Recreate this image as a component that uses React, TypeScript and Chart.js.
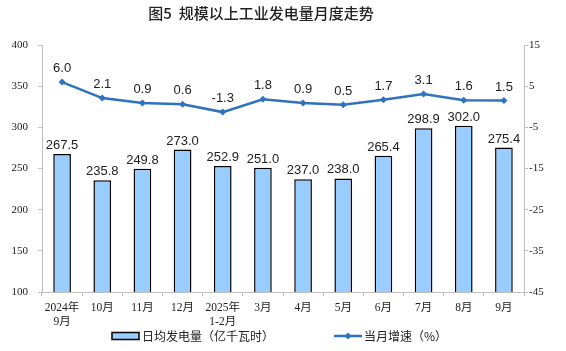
import React, { useEffect, useRef } from "react";
import { Chart, registerables } from "chart.js";

Chart.register(...registerables);

const categories: string[][] = [
  ["2024年", "9月"], ["10月"], ["11月"], ["12月"], ["2025年", "1-2月"],
  ["3月"], ["4月"], ["5月"], ["6月"], ["7月"], ["8月"], ["9月"],
];
const dailyOutput = [267.5, 235.8, 249.8, 273.0, 252.9, 251.0, 237.0, 238.0, 265.4, 298.9, 302.0, 275.4];
const monthlyGrowth = [6.0, 2.1, 0.9, 0.6, -1.3, 1.8, 0.9, 0.5, 1.7, 3.1, 1.6, 1.5];
const leftTicks = [100, 150, 200, 250, 300, 350, 400];
const rightTicks = [-45, -35, -25, -15, -5, 5, 15];

const TITLE = "图5  规模以上工业发电量月度走势";
const BAR_LABEL = "日均发电量（亿千瓦时）";
const LINE_LABEL = "当月增速（%）";

const BAR_FILL = "#99CCFF";
const LINE_COLOR = "#2F72C0";
const AXIS_COLOR = "#BFBFBF";
const TEXT_COLOR = "#222222";
const SERIF = "'Liberation Serif', 'Noto Sans CJK SC', serif";
const SANS = "'Liberation Sans', Arial, sans-serif";
const CJK = "'Noto Sans CJK SC', sans-serif";

const overlayPlugin = {
  id: "overlay",
  afterDatasetsDraw(chart: any) {
    const ctx = chart.ctx;
    ctx.save();
    ctx.fillStyle = "#222222";
    ctx.font = `13px ${SANS}`;
    ctx.textAlign = "center";
    ctx.textBaseline = "bottom";
    const barMeta = chart.getDatasetMeta(0);
    barMeta.data.forEach((el: any, i: number) => {
      ctx.fillText(dailyOutput[i].toFixed(1), el.x, el.y - 2);
    });
    const lineMeta = chart.getDatasetMeta(1);
    lineMeta.data.forEach((el: any, i: number) => {
      ctx.fillText(monthlyGrowth[i].toFixed(1), el.x, el.y - 7);
    });
    ctx.restore();
  },
  afterDraw(chart: any) {
    const ctx = chart.ctx;
    ctx.save();
    // title
    ctx.fillStyle = "#222222";
    ctx.font = `500 15px ${CJK}`;
    ctx.textAlign = "center";
    ctx.textBaseline = "middle";
    ctx.fillText(TITLE, 261, 13);
    // legend
    const ly = 336;
    ctx.fillStyle = BAR_FILL;
    ctx.strokeStyle = "#000000";
    ctx.lineWidth = 1.5;
    ctx.fillRect(112, ly - 3.5, 27, 7);
    ctx.strokeRect(112, ly - 3.5, 27, 7);
    ctx.font = `12px ${CJK}`;
    ctx.fillStyle = "#222222";
    ctx.textAlign = "left";
    ctx.fillText(BAR_LABEL, 142, ly);
    ctx.strokeStyle = LINE_COLOR;
    ctx.lineWidth = 2.5;
    ctx.beginPath();
    ctx.moveTo(334, ly);
    ctx.lineTo(362, ly);
    ctx.stroke();
    ctx.fillStyle = LINE_COLOR;
    ctx.beginPath();
    ctx.moveTo(348, ly - 3.5);
    ctx.lineTo(351.5, ly);
    ctx.lineTo(348, ly + 3.5);
    ctx.lineTo(344.5, ly);
    ctx.closePath();
    ctx.fill();
    ctx.fillStyle = "#222222";
    ctx.fillText(LINE_LABEL, 364, ly);
    ctx.restore();
  },
};

export default function App() {
  const ref = useRef<HTMLCanvasElement | null>(null);
  useEffect(() => {
    document.body.style.margin = "0";
    if (!ref.current) return;
    const chart = new Chart(ref.current, {
      data: {
        labels: categories,
        datasets: [
          {
            type: "bar",
            label: BAR_LABEL,
            data: dailyOutput,
            backgroundColor: BAR_FILL,
            borderColor: "#000000",
            borderWidth: 1.5,
            barPercentage: 0.44,
            categoryPercentage: 1,
            yAxisID: "y",
            order: 2,
          },
          {
            type: "line",
            label: LINE_LABEL,
            data: monthlyGrowth,
            borderColor: LINE_COLOR,
            backgroundColor: LINE_COLOR,
            borderWidth: 2.5,
            pointStyle: "rectRot",
            pointRadius: 3.5,
            pointBorderWidth: 0,
            tension: 0,
            yAxisID: "y1",
            order: 1,
          },
        ],
      } as any,
      options: {
        animation: false,
        responsive: false,
        maintainAspectRatio: false,
        layout: { padding: { top: 45, left: 0, right: 0, bottom: 0 } },
        plugins: { legend: { display: false }, tooltip: { enabled: false }, title: { display: false } },
        scales: {
          x: {
            offset: true,
            grid: { display: true, drawOnChartArea: false, offset: true, color: AXIS_COLOR, tickLength: 4 },
            border: { color: AXIS_COLOR, width: 1 },
            ticks: {
              color: TEXT_COLOR,
              font: { family: SERIF, size: 11.5, lineHeight: 1.2 },
              padding: 5,
              maxRotation: 0,
              autoSkip: false,
            },
            afterFit: (s: any) => { s.height = 59; },
          },
          y: {
            position: "left",
            min: 100,
            max: 400,
            afterBuildTicks: (s: any) => { s.ticks = leftTicks.map((v) => ({ value: v })); },
            grid: { display: true, drawOnChartArea: false, color: AXIS_COLOR, tickLength: 4 },
            border: { color: AXIS_COLOR, width: 1 },
            ticks: { color: TEXT_COLOR, font: { family: SERIF, size: 11 }, padding: 10 },
            afterFit: (s: any) => { s.width = 42; },
          },
          y1: {
            position: "right",
            min: -45,
            max: 15,
            afterBuildTicks: (s: any) => { s.ticks = rightTicks.map((v) => ({ value: v })); },
            grid: { display: true, drawOnChartArea: false, color: AXIS_COLOR, tickLength: 4 },
            border: { color: AXIS_COLOR, width: 1 },
            ticks: { color: TEXT_COLOR, font: { family: SERIF, size: 11 }, padding: 1 },
            afterFit: (s: any) => { s.width = 42; },
          },
        },
      },
      plugins: [overlayPlugin],
    });
    return () => chart.destroy();
  }, []);
  return (
    <div style={{ width: 566, height: 351 }}>
      <canvas ref={ref} width={566} height={351} style={{ display: "block", width: 566, height: 351 }} />
    </div>
  );
}
